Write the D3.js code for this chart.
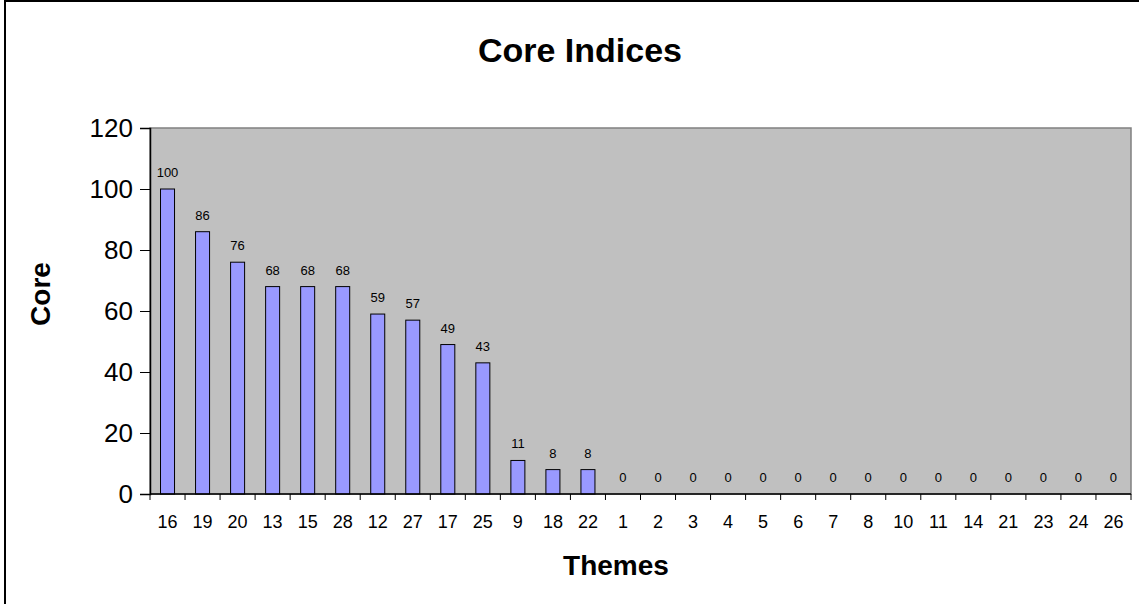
<!DOCTYPE html>
<html>
<head>
<meta charset="utf-8">
<script src="https://cdn.jsdelivr.net/npm/d3@7"></script>
<style>
  body { margin: 0; background: #fff; }
  text { font-family: "Liberation Sans", Arial, sans-serif; fill: #000; }
</style>
</head>
<body>
<div id="chart"></div>
<script>
const themes = ["16","19","20","13","15","28","12","27","17","25","9","18","22","1","2","3","4","5","6","7","8","10","11","14","21","23","24","26"]
const core = [100,86,76,68,68,68,59,57,49,43,11,8,8,0,0,0,0,0,0,0,0,0,0,0,0,0,0,0]
const yTicks = [0,20,40,60,80,100,120]

const width = 1139, height = 604
const plot = {left: 150, right: 1131, top: 128, bottom: 494}

const svg = d3.select("#chart").append("svg")
    .attr("width", width)
    .attr("height", height)

// outer chart frame (runs off the right/bottom edge)
svg.append("rect")
    .attr("x", 5).attr("y", 1)
    .attr("width", 1160).attr("height", 640)
    .attr("fill", "#fff")
    .attr("stroke", "#000")
    .attr("stroke-width", 2)

const x = d3.scaleBand()
    .domain(themes)
    .range([plot.left, plot.right])
    .paddingInner(0.6)
    .paddingOuter(0.3)

const y = d3.scaleLinear()
    .domain([0, 120])
    .range([plot.bottom, plot.top])

svg.append("rect")
    .attr("x", plot.left).attr("y", plot.top)
    .attr("width", plot.right - plot.left)
    .attr("height", plot.bottom - plot.top)
    .attr("fill", "#c0c0c0")
    .attr("stroke", "#808080")
    .attr("stroke-width", 1.5)

svg.append("g")
    .selectAll("rect")
    .data(core)
    .join("rect")
    .attr("x", (d, i) => x(themes[i]))
    .attr("y", d => y(d))
    .attr("width", x.bandwidth())
    .attr("height", d => y(0) - y(d))
    .attr("fill", "#9999ff")
    .attr("stroke", "#000")
    .attr("stroke-width", 1)

svg.append("g")
    .selectAll("text")
    .data(core)
    .join("text")
    .attr("x", (d, i) => x(themes[i]) + x.bandwidth() / 2)
    .attr("y", d => y(d) - 12)
    .attr("text-anchor", "middle")
    .style("font-size", "13px")
    .text(d => d)

// y axis
const yAxis = svg.append("g")
    .attr("transform", `translate(${plot.left},0)`)
    .call(d3.axisLeft(y).tickValues(yTicks).tickSize(10).tickPadding(7))
yAxis.select(".domain").attr("stroke", "#000").attr("stroke-width", 1.5)
yAxis.selectAll("text").style("font-size", "26px")

// x axis: ticks sit between categories
const step = x.step()
const xAxis = svg.append("g")
    .attr("transform", `translate(0,${plot.bottom})`)
xAxis.append("line")
    .attr("x1", plot.left).attr("x2", plot.right)
    .attr("stroke", "#000").attr("stroke-width", 1.5)
xAxis.selectAll("line.tick")
    .data(d3.range(themes.length + 1))
    .join("line")
    .attr("class", "tick")
    .attr("x1", i => plot.left + i * step)
    .attr("x2", i => plot.left + i * step)
    .attr("y1", 0).attr("y2", 6)
    .attr("stroke", "#000")
xAxis.selectAll("text")
    .data(themes)
    .join("text")
    .attr("x", d => x(d) + x.bandwidth() / 2)
    .attr("y", 34)
    .attr("text-anchor", "middle")
    .style("font-size", "18px")
    .text(d => d)

svg.append("text")
    .attr("x", 580).attr("y", 62)
    .attr("text-anchor", "middle")
    .style("font-size", "34px")
    .style("font-weight", "bold")
    .text("Core Indices")

svg.append("text")
    .attr("x", 616).attr("y", 575)
    .attr("text-anchor", "middle")
    .style("font-size", "28px")
    .style("font-weight", "bold")
    .text("Themes")

svg.append("text")
    .attr("transform", "translate(50,294) rotate(-90)")
    .attr("text-anchor", "middle")
    .style("font-size", "28px")
    .style("font-weight", "bold")
    .text("Core")
</script>
</body>
</html>
